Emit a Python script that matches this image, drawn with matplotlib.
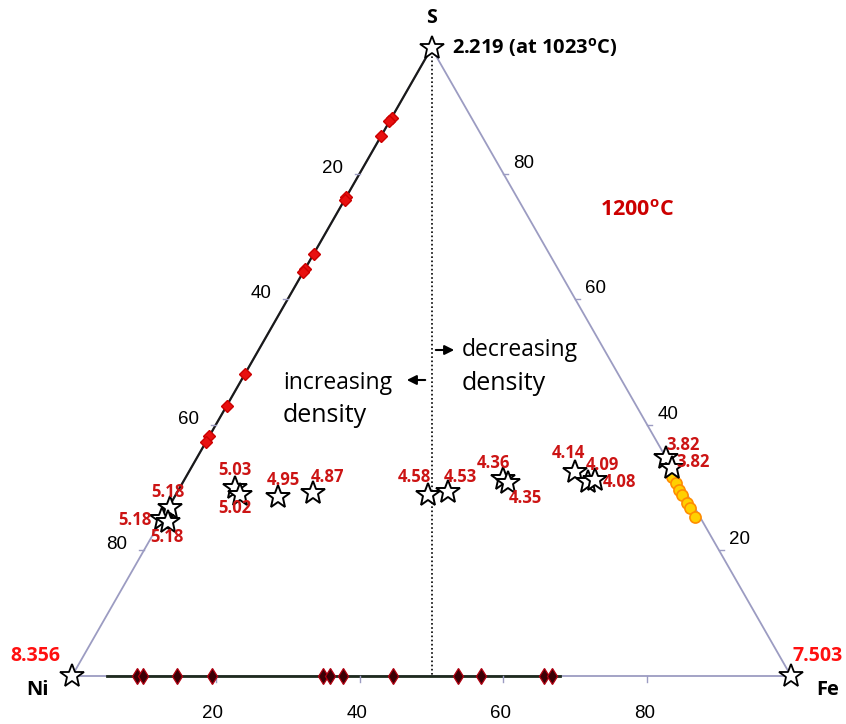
import matplotlib
matplotlib.use("Agg")
import matplotlib.pyplot as plt
import numpy as np

# compositions in wt% (Ni = 100 - Fe - S)
# Ni-S binary (red diamonds on the Ni-S edge)
nis_s = [88.9, 88.3, 86.0, 76.3, 75.8, 67.2, 64.8, 64.3, 48.1, 43.0, 38.2, 37.3]
nis_fe = [0.0] * len(nis_s)

# Fe-Ni binary (dark diamonds on the bottom edge)
feni_fe = [9.1, 9.9, 14.6, 19.5, 34.9, 35.9, 37.7, 44.7, 53.7, 56.9, 65.6, 66.8]
feni_s = [0.0] * len(feni_fe)

# Fe-S binary (orange circles on the Fe-S edge)
fes_s = [31.7, 30.7, 29.6, 28.8, 27.5, 26.8, 25.3]
fes_fe = [67.6, 68.6, 69.6, 70.5, 71.8, 72.5, 74.0]

# measured densities (stars)
star_fe = [0.3, 0.0, 1.1, 7.7, 9.0, 14.4, 19.0, 35.1, 37.7, 44.3, 45.3, 53.7, 56.3, 57.1, 65.2, 66.9]
star_s = [26.7, 25.0, 24.5, 29.9, 28.8, 28.5, 29.1, 28.8, 29.3, 31.4, 30.7, 32.5, 30.9, 31.2, 34.7, 33.1]
star_lab = ["5.18", "5.18", "5.18", "5.03", "5.02", "4.95", "4.87", "4.58", "4.53",
            "4.36", "4.35", "4.14", "4.09", "4.08", "3.82", "3.82"]
# label offsets in pixels
star_off = [(-2, 16), (-27, -1), (-1, -15), (0, 18), (-5, -13), (5, 17), (14, 16), (-13, 18),
            (12, 15), (-10, 16), (17, -15), (-7, 19), (15, 17), (25, -2), (18, 13), (21, 6)]

ticks = [20, 40, 60, 80]

W, H = 846, 724


def tern(fe, s):
    fe = np.asarray(fe, float)
    s = np.asarray(s, float)
    return fe + s / 2.0, s


def fx(px, py):
    return px / W, 1 - py / H


fig = plt.figure(figsize=(8.46, 7.24), dpi=100)
ax = fig.add_axes([0, 0, 1, 1])
ax.set_xlim(-72 / 7.19, (W - 72) / 7.19)
ax.set_ylim((676 - H) / 6.28, 676 / 6.28)
ax.axis("off")

edge = "#9c9cc2"
dark = "#1a1a1a"
sans = ["Open Sans", "DejaVu Sans"]

# triangle edges
x, y = tern([0, 0, 100, 0], [0, 100, 0, 0])
ax.plot(x, y, color=edge, lw=1.3, zorder=1)
x, y = tern([0, 0], [27, 100])
ax.plot(x, y, color=dark, lw=1.6, zorder=2)
x, y = tern([4.9, 67.9], [0, 0])
ax.plot(x, y, color="#1e2a1e", lw=2.0, zorder=2)

# Fe = Ni line
x, y = tern([0, 50], [100, 0])
ax.plot(x, y, color="black", lw=1.2, ls=(0, (1, 1.5)), zorder=2)

# ticks and tick labels
for t in ticks:
    # left edge: Ni %
    x, y = tern(0, 100 - t)
    ax.plot([x, x - 0.7], [y, y], color=edge, lw=1.0)
    ax.annotate(str(t), (x, y), xytext=(-27, 5.5), textcoords="offset pixels",
                ha="center", va="center", fontsize=13.5, family="Liberation Sans")
    # right edge: S %
    x, y = tern(100 - t, t)
    ax.plot([x, x + 0.7], [y, y], color=edge, lw=1.0)
    ax.annotate(str(t), (x, y), xytext=(20.5, 10.5), textcoords="offset pixels",
                ha="center", va="center", fontsize=13.5, family="Liberation Sans")
    # bottom: Fe %
    x, y = tern(t, 0)
    ax.plot([x, x], [y, y - 0.9], color=edge, lw=1.0)
    ax.annotate(str(t), (x, y), xytext=(-3, -37), textcoords="offset pixels",
                ha="center", va="center", fontsize=13.5, family="Liberation Sans")

# data
x, y = tern(nis_fe, nis_s)
ax.plot(x, y, ls="none", marker="D", ms=6, mfc="#e81010", mec="#cc0000", zorder=4)
x, y = tern(feni_fe, feni_s)
ax.plot(x, y, ls="none", marker="d", ms=8, mfc="#3a0006", mec="#b00010", mew=0.9, zorder=4)
x, y = tern(fes_fe, fes_s)
ax.plot(x, y, ls="none", marker="o", ms=8, mfc="#ffd000", mec="#ff8c00", mew=1.2, zorder=4)

x, y = tern(star_fe, star_s)
ax.plot(x, y, ls="none", marker="*", ms=18, mfc="white", mec="black", mew=1.4, zorder=6)
for xi, yi, lab, off in zip(x, y, star_lab, star_off):
    ax.annotate(lab, (xi, yi), xytext=off, textcoords="offset pixels", ha="center", va="center",
                fontsize=12, fontweight="bold", color="#cc1414", family=sans, zorder=7)

# pure end members
x, y = tern([0, 100, 0], [0, 0, 100])
ax.plot(x, y, ls="none", marker="*", ms=18, mfc="white", mec="black", mew=1.3, zorder=6)

# vertex labels
fig.text(*fx(431, 18), "S", ha="center", va="center", fontsize=14, fontweight="bold", family=sans)
fig.text(*fx(37, 690), "Ni", ha="center", va="center", fontsize=14.5, fontweight="bold", family=sans)
fig.text(*fx(828, 690), "Fe", ha="center", va="center", fontsize=14.5, fontweight="bold", family=sans)
fig.text(*fx(35, 656), "8.356", ha="center", va="center", fontsize=14, fontweight="bold",
         color="#ff1010", family=sans)
fig.text(*fx(818, 656), "7.503", ha="center", va="center", fontsize=14, fontweight="bold",
         color="#ff1010", family=sans)
fig.text(*fx(452, 47), r"2.219 (at 1023$^{\mathregular{o}}$C)", ha="left", va="center",
         fontsize=14.5, fontweight="bold", family=sans)
fig.text(*fx(600, 211), r"1200$^{\mathregular{o}}$C", ha="left", va="center",
         fontsize=15.5, fontweight="bold", color="#cc0000", family=sans)

# density annotations
fig.text(*fx(462, 350), "decreasing", ha="left", va="center", fontsize=16.5, family=sans)
fig.text(*fx(462, 383), "density", ha="left", va="center", fontsize=18, family=sans)
fig.text(*fx(283, 383), "increasing", ha="left", va="center", fontsize=16.5, family=sans)
fig.text(*fx(283, 416), "density", ha="left", va="center", fontsize=18, family=sans)
ax.annotate("", xy=fx(457, 350), xytext=fx(433, 350), xycoords="figure fraction",
            textcoords="figure fraction",
            arrowprops=dict(arrowstyle="-|>", color="black", lw=1.5, mutation_scale=14))
ax.annotate("", xy=fx(404, 380), xytext=fx(428, 380), xycoords="figure fraction",
            textcoords="figure fraction",
            arrowprops=dict(arrowstyle="-|>", color="black", lw=1.5, mutation_scale=14))

fig.savefig("out.png", dpi=100, facecolor="white")
